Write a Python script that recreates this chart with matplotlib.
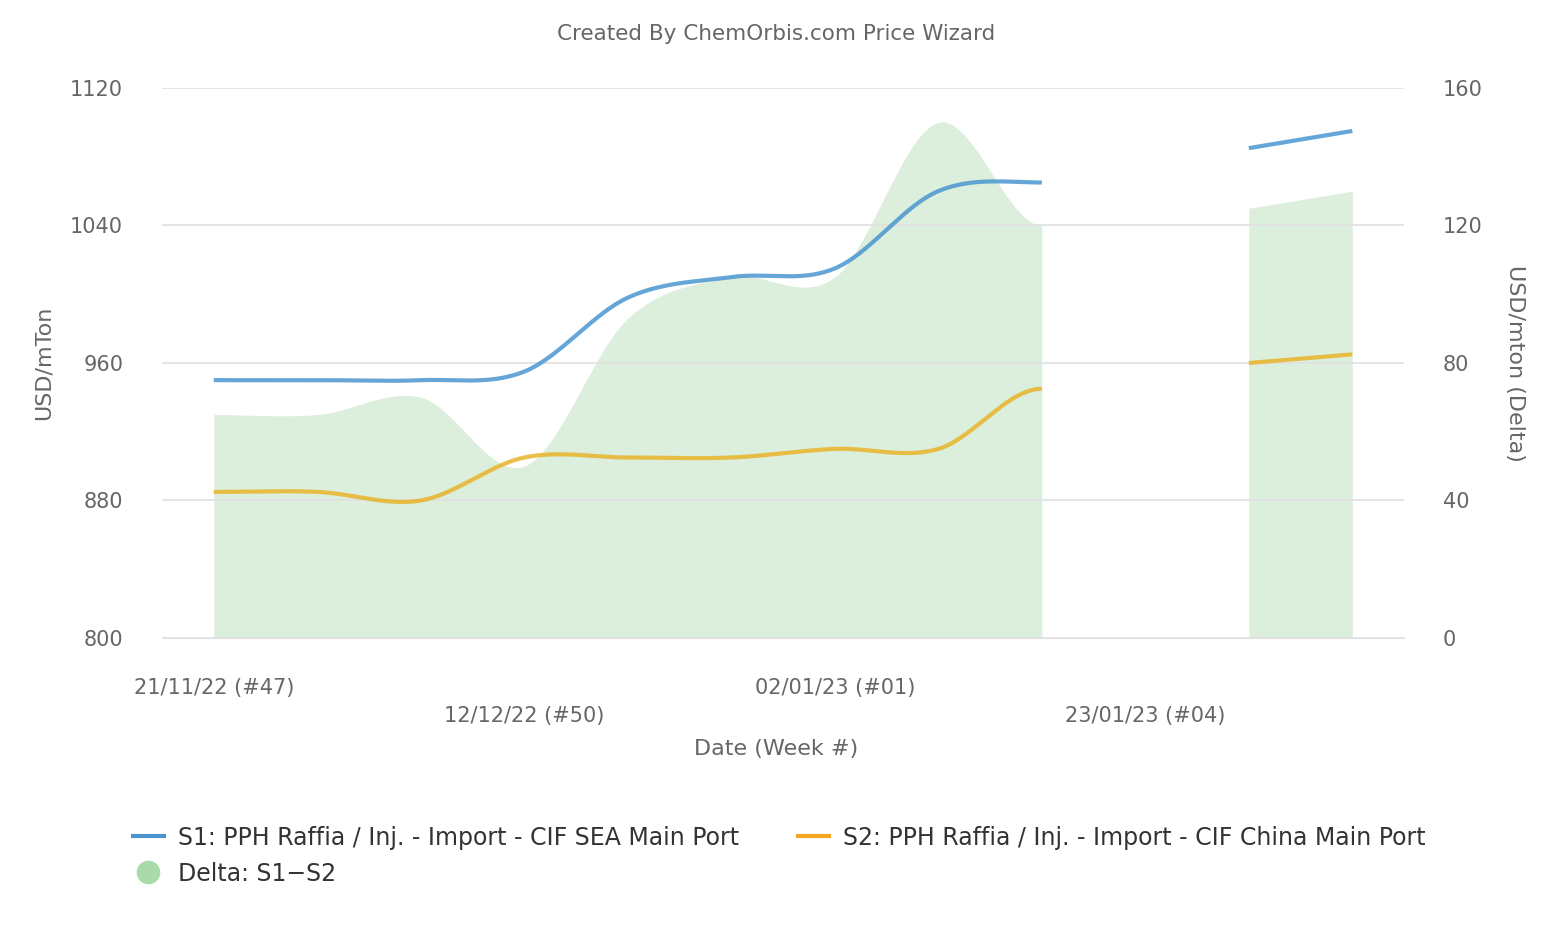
import numpy as np
import matplotlib.pyplot as plt
from matplotlib.lines import Line2D

weeks = list(range(12))
s1 = [950, 950, 950, 955, 998, 1010, 1015, 1060, 1065, None, 1085, 1095]
s2 = [885, 885, 880, 905, 905, 905, 910, 910, 945, None, 960, 965]
delta = [65, 65, 70, 50, 93, 105, 105, 150, 120, None, 125, 130]
tick_idx = [0, 3, 6, 9]
tick_lab = ['21/11/22 (#47)', '12/12/22 (#50)', '02/01/23 (#01)', '23/01/23 (#04)']

C1 = '#4a96d0'
C2 = '#e8b32a'
CG = '#dcefdc'
TXT = '#666666'


def segments(vals):
    segs, cur = [], []
    for i, v in enumerate(vals):
        if v is None:
            if cur:
                segs.append(cur)
            cur = []
        else:
            cur.append((i, v))
    if cur:
        segs.append(cur)
    return segs


def spline(seg, n=40):
    # Catmull-Rom style smoothing between points, like a Highcharts spline
    x = np.array([p[0] for p in seg], float)
    y = np.array([p[1] for p in seg], float)
    if len(x) < 3:
        return x, y
    m = np.zeros_like(y)
    m[1:-1] = (y[2:] - y[:-2]) / (x[2:] - x[:-2])
    xs, ys = [], []
    for i in range(len(x) - 1):
        t = np.linspace(0, 1, n)
        h = x[i + 1] - x[i]
        h00 = 2 * t**3 - 3 * t**2 + 1
        h10 = t**3 - 2 * t**2 + t
        h01 = -2 * t**3 + 3 * t**2
        h11 = t**3 - t**2
        xs.append(x[i] + t * h)
        ys.append(h00 * y[i] + h10 * h * m[i] + h01 * y[i + 1] + h11 * h * m[i + 1])
    return np.concatenate(xs), np.concatenate(ys)


fig = plt.figure(figsize=(15.52, 9.3), dpi=100)
ax = fig.add_axes([0.1044, 0.314, 0.8003, 0.5914])
ax2 = ax.twinx()
ax.set_zorder(ax2.get_zorder() + 1)
ax.patch.set_visible(False)

for seg in segments(delta):
    xs, ys = spline(seg)
    ax2.fill_between(xs, 0, ys, color=CG, lw=0)

for vals, c in [(s1, C1), (s2, C2)]:
    for seg in segments(vals):
        xs, ys = spline(seg)
        ax.plot(xs, ys, color=c, lw=3, alpha=0.85, solid_capstyle='butt')

ax.set_xlim(-0.5, 11.5)
ax.set_ylim(800, 1120)
ax2.set_ylim(0, 160)
ax.set_yticks([800, 880, 960, 1040, 1120])
ax2.set_yticks([0, 40, 80, 120, 160])
ax.grid(axis='y', color='#e0e0e0', lw=1.2)
for a in (ax, ax2):
    for s in a.spines.values():
        s.set_visible(False)
    a.tick_params(length=0, labelsize=15, labelcolor=TXT, pad=28)
ax.spines['bottom'].set_visible(True)
ax.spines['bottom'].set_color('#e0e0e0')
ax.set_xticks([])
for k, (i, lab) in enumerate(zip(tick_idx, tick_lab)):
    yoff = -50 if k % 2 == 0 else -78
    ax.annotate(lab, (i, 800), xytext=(0, yoff), textcoords='offset points' if False else 'offset pixels',
                ha='center', va='center', fontsize=15, color=TXT, annotation_clip=False)

ax.set_ylabel('USD/mTon', fontsize=16, color=TXT, labelpad=12)
ax2.set_ylabel('USD/mton (Delta)', fontsize=16, color=TXT, rotation=270, labelpad=30)
fig.text(0.5, 0.188, 'Date (Week #)', ha='center', fontsize=16, color=TXT)
fig.text(0.5, 0.957, 'Created By ChemOrbis.com Price Wizard', ha='center', fontsize=15.5, color=TXT)

handles = [Line2D([], [], color=C1, lw=3),
           Line2D([], [], color='#a9dba9', marker='o', ls='', markersize=16),
           Line2D([], [], color='#f5a623', lw=3)]
labels = ['S1: PPH Raffia / Inj. - Import - CIF SEA Main Port', 'Delta: S1\u2212S2',
          'S2: PPH Raffia / Inj. - Import - CIF China Main Port']
fig.legend(handles, labels, ncol=2, loc='upper left', bbox_to_anchor=(0.072, 0.135),
           frameon=False, fontsize=17, handlelength=1.3, columnspacing=2.5,
           labelcolor='#333333', handletextpad=0.6)

fig.savefig('out.png', dpi=100)
